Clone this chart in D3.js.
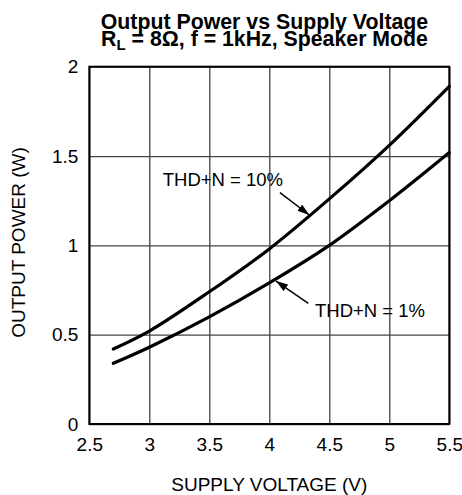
<!DOCTYPE html>
<html>
<head>
<meta charset="utf-8">
<script src="https://cdn.jsdelivr.net/npm/d3@7"></script>
<style>
  body { margin: 0; background: #fff; }
  text { font-family: Arial, "Liberation Sans", sans-serif; fill: #000; }
</style>
</head>
<body>
<div class="chart"></div>
<script>
// data
var voltage = [2.7, 3.0, 3.5, 4.0, 4.5, 5.0, 5.5];
var thd10 = [0.42, 0.52, 0.74, 0.98, 1.26, 1.56, 1.89];
var thd1 = [0.34, 0.43, 0.60, 0.79, 1.00, 1.25, 1.52];
var xTicks = [2.5, 3, 3.5, 4, 4.5, 5, 5.5];
var yTicks = [0, 0.5, 1, 1.5, 2];

var svgWidth = 462;
var svgHeight = 495;
var margin = { top: 66.7, right: 12.7, bottom: 71, left: 89.3 };
var width = svgWidth - margin.left - margin.right;
var height = svgHeight - margin.top - margin.bottom;

var svg = d3.select(".chart")
  .append("svg")
  .attr("width", svgWidth)
  .attr("height", svgHeight);

var chartGroup = svg.append("g")
  .attr("transform", `translate(${margin.left}, ${margin.top})`);

var xScale = d3.scaleLinear().domain([2.5, 5.5]).range([0, width]);
var yScale = d3.scaleLinear().domain([0, 2]).range([height, 0]);

// grid
chartGroup.append("g")
  .attr("transform", `translate(0, ${height})`)
  .call(d3.axisBottom(xScale).tickValues(xTicks).tickFormat(d => d)
    .tickSizeInner(-height).tickSizeOuter(0).tickPadding(14))
  .call(g => g.select(".domain").remove())
  .call(g => g.selectAll("line").attr("stroke", "#444").attr("stroke-width", 1.3))
  .call(g => g.selectAll("text").attr("font-size", 19).attr("dy", "0.71em")
    .attr("font-family", "Arial, 'Liberation Sans', sans-serif").attr("fill", "#000"));

chartGroup.append("g")
  .call(d3.axisLeft(yScale).tickValues(yTicks).tickFormat(d => d)
    .tickSizeInner(-width).tickSizeOuter(0).tickPadding(11))
  .call(g => g.select(".domain").remove())
  .call(g => g.selectAll("line").attr("stroke", "#444").attr("stroke-width", 1.3))
  .call(g => g.selectAll("text").attr("font-size", 19)
    .attr("font-family", "Arial, 'Liberation Sans', sans-serif").attr("fill", "#000"));

// frame
chartGroup.append("rect")
  .attr("width", width)
  .attr("height", height)
  .attr("fill", "none")
  .attr("stroke", "#000")
  .attr("stroke-width", 2);

// curves
var line = d3.line()
  .x((d, i) => xScale(voltage[i]))
  .y(d => yScale(d))
  .curve(d3.curveCatmullRom.alpha(0.5));

[thd10, thd1].forEach(function(series) {
  chartGroup.append("path")
    .attr("d", line(series))
    .attr("fill", "none")
    .attr("stroke", "#000")
    .attr("stroke-width", 3.2)
    .attr("stroke-linecap", "round");
});

// arrow heads
svg.append("defs").append("marker")
  .attr("id", "arrow")
  .attr("viewBox", "0 0 12 8")
  .attr("refX", 12)
  .attr("refY", 4)
  .attr("markerWidth", 12)
  .attr("markerHeight", 8)
  .attr("markerUnits", "userSpaceOnUse")
  .attr("orient", "auto")
  .append("path")
  .attr("d", "M0,0L12,4L0,8Z")
  .attr("fill", "#000");

// annotations
var notes = [
  { label: "THD+N = 10%", tx: 3.112, ty: 1.334, x1: 4.089, y1: 1.295, x2: 4.333, y2: 1.17 },
  { label: "THD+N = 1%", tx: 4.381, ty: 0.60, x1: 4.325, y1: 0.675, x2: 4.056, y2: 0.80 }
];

notes.forEach(function(n) {
  chartGroup.append("line")
    .attr("x1", xScale(n.x1)).attr("y1", yScale(n.y1))
    .attr("x2", xScale(n.x2)).attr("y2", yScale(n.y2))
    .attr("stroke", "#000")
    .attr("stroke-width", 1.5)
    .attr("marker-end", "url(#arrow)");
  chartGroup.append("text")
    .attr("x", xScale(n.tx))
    .attr("y", yScale(n.ty))
    .attr("font-size", 18.5)
    .text(n.label);
});

// titles
svg.append("text")
  .attr("x", 264.5)
  .attr("y", 28.5)
  .attr("text-anchor", "middle")
  .attr("font-size", 21.3)
  .attr("font-weight", "bold")
  .text("Output Power vs Supply Voltage");

var t2 = svg.append("text")
  .attr("x", 264.5)
  .attr("y", 45.7)
  .attr("text-anchor", "middle")
  .attr("font-size", 21.3)
  .attr("font-weight", "bold");
t2.append("tspan").text("R");
t2.append("tspan").attr("font-size", 15).attr("dy", 4).text("L");
t2.append("tspan").attr("dy", -4).text(" = 8Ω, f = 1kHz, Speaker Mode");

svg.append("text")
  .attr("x", margin.left + width / 2)
  .attr("y", 491)
  .attr("text-anchor", "middle")
  .attr("font-size", 19)
  .text("SUPPLY VOLTAGE (V)");

svg.append("text")
  .attr("transform", "rotate(-90)")
  .attr("x", -242.5)
  .attr("y", 25)
  .attr("text-anchor", "middle")
  .attr("font-size", 19)
  .text("OUTPUT POWER (W)");
</script>
</body>
</html>
